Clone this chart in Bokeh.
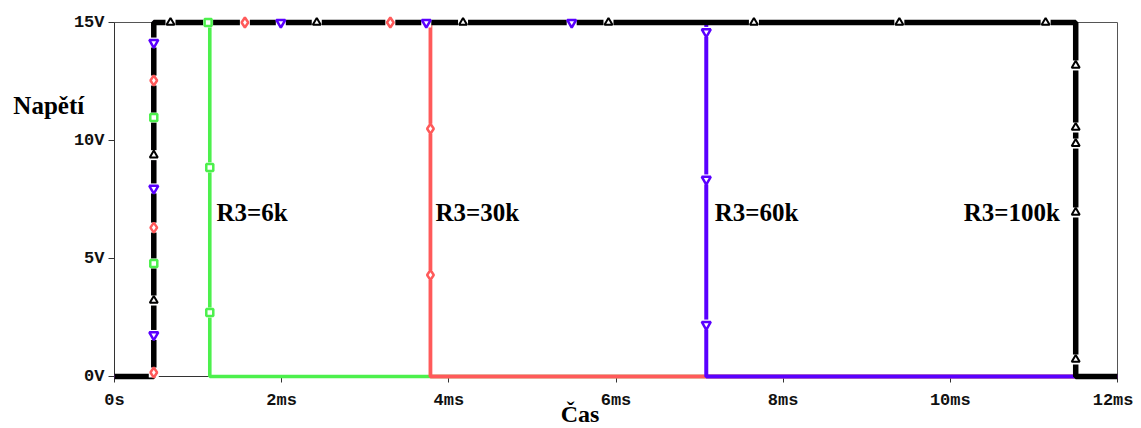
from bokeh.plotting import figure
from bokeh.models import Range1d, FixedTicker, Label
from bokeh.core.properties import value
from bokeh.embed import file_html
from bokeh.resources import INLINE

# ---- data (time in ms, voltage in V) ----
green_t = [0, 0.47, 0.47, 1.14, 1.14, 12]
green_v = [0, 0, 15, 15, 0, 0]
red_t = [0, 0.47, 0.47, 3.78, 3.78, 12]
red_v = [0, 0, 15, 15, 0, 0]
blue_t = [0, 0.47, 0.47, 7.08, 7.08, 12]
blue_v = [0, 0, 15, 15, 0, 0]
black_t = [0, 0.47, 0.47, 11.5, 11.5, 12]
black_v = [0, 0, 15, 15, 0, 0]

# markers along each trace
green_mt = [0.47, 0.47, 1.12, 1.14, 1.14]
green_mv = [10.97, 4.79, 15, 8.86, 2.71]
red_mt = [0.47, 0.47, 0.47, 1.56, 3.30, 3.78, 3.78]
red_mv = [0.17, 6.31, 12.54, 15, 15, 10.5, 4.3]
blue_mt = [0.47, 0.47, 0.47, 1.99, 3.73, 5.47, 7.08, 7.08, 7.08]
blue_mv = [14.15, 7.97, 1.76, 15, 15, 15, 14.6, 8.35, 2.2]
black_mt = [0.47, 0.47, 0.67, 2.42, 4.17, 5.91, 7.65, 9.39, 11.14,
            11.5, 11.5, 11.5, 11.5, 11.5]
black_mv = [9.38, 3.22, 15, 15, 15, 15, 15, 15, 15,
            13.18, 10.55, 9.87, 6.95, 0.72]

x_ticks = [0, 2, 4, 6, 8, 10, 12]
x_tick_labels = ["0s", "2ms", "4ms", "6ms", "8ms", "10ms", "12ms"]
y_ticks = [0, 5, 10, 15]
y_tick_labels = ["0V", "5V", "10V", "15V"]

labels = ["R3=6k", "R3=30k", "R3=60k", "R3=100k"]
label_t = [1.22, 3.84, 7.18, 10.16]
label_v = [6.95, 6.95, 6.95, 6.95]

y_title = "Napětí"
y_title_pos = (-1.21, 11.5)
x_title = "Čas"
x_title_pos = (5.57, -1.6)

GREEN = "#4cf04c"
RED = "#ff5a5a"
BLUE = "#5a00ff"
BLACK = "#000000"

p = figure(width=1133, height=428, output_backend="svg", toolbar_location=None,
           x_range=Range1d(0, 12), y_range=Range1d(0, 15),
           min_border_left=114, min_border_right=16, min_border_top=22,
           min_border_bottom=52)
p.background_fill_color = "white"
p.border_fill_color = "white"
p.outline_line_color = "#555555"
p.outline_line_width = 1
p.xgrid.visible = False
p.ygrid.visible = False

for ax, ticks, labs in ((p.xaxis[0], x_ticks, x_tick_labels), (p.yaxis[0], y_ticks, y_tick_labels)):
    ax.ticker = FixedTicker(ticks=ticks)
    ax.major_label_overrides = {t: l for t, l in zip(ticks, labs)}
    ax.minor_tick_line_color = None
    ax.major_tick_in = 0
    ax.major_tick_out = 6
    ax.axis_line_color = "#333333"
    ax.major_tick_line_color = "#333333"
    ax.major_label_text_font = "Liberation Mono"
    ax.major_label_text_font_style = "bold"
    ax.major_label_text_font_size = "17px"
    ax.major_label_text_color = "#111111"
p.xaxis[0].major_label_standoff = 8
p.yaxis[0].major_label_standoff = 4

lv = "overlay"
p.line(green_t, green_v, line_color=GREEN, line_width=3.6, level=lv)
p.line(red_t, red_v, line_color=RED, line_width=3.8, level=lv)
p.line(blue_t, blue_v, line_color=BLUE, line_width=4.0, level=lv)
p.line(black_t, black_v, line_color=BLACK, line_width=5.5, level=lv)

# white gaps around markers
all_t = green_mt + red_mt + blue_mt + black_mt
all_v = green_mv + red_mv + blue_mv + black_mv
p.scatter(all_t, all_v, marker="square", size=10, fill_color="white", line_color=None, level=lv)

p.scatter(green_mt, green_mv, marker="square", size=7, fill_color="white",
          line_color=GREEN, line_width=2.5, level=lv)
p.scatter(red_mt, red_mv, marker="diamond", size=10, fill_color="white",
          line_color=RED, line_width=2.5, level=lv)
p.scatter(blue_mt, blue_mv, marker="inverted_triangle", size=9, fill_color="white",
          line_color=BLUE, line_width=2.5, level=lv)
p.scatter(black_mt, black_mv, marker="triangle", size=8, fill_color="white",
          line_color=BLACK, line_width=2, level=lv)

for txt, tx, ty in zip(labels, label_t, label_v):
    p.add_layout(Label(x=tx, y=ty, text=txt, text_font="Liberation Serif",
                       text_font_style="bold", text_font_size="25px",
                       text_baseline="middle", text_align="left", text_color="black"))

# axis titles as text glyphs outside the frame (overlay level is not clipped)
p.text(x=[y_title_pos[0]], y=[y_title_pos[1]], text=[y_title],
       text_font=value("Liberation Serif"), text_font_style="bold",
       text_font_size="25px", text_baseline="middle", text_align="left",
       text_color="black", level=lv)
p.text(x=[x_title_pos[0]], y=[x_title_pos[1]], text=[x_title],
       text_font=value("Liberation Serif"), text_font_style="bold",
       text_font_size="24px", text_baseline="middle", text_align="center",
       text_color="black", level=lv)

open("out.html", "w").write(file_html(p, INLINE))
